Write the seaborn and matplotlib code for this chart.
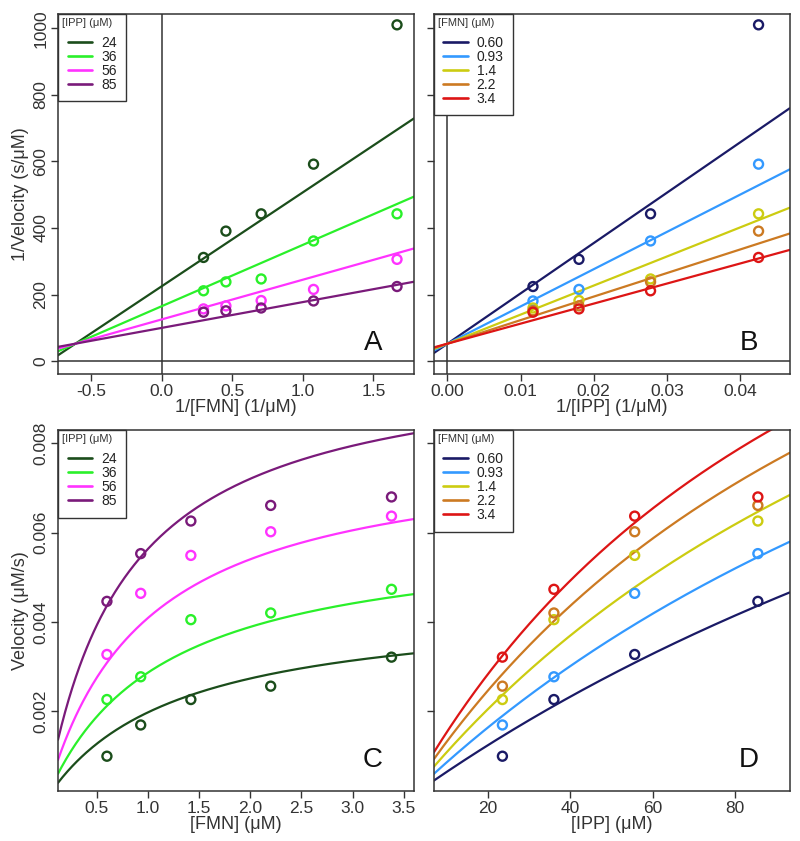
import numpy as np
import pandas as pd
import matplotlib
matplotlib.use("Agg")
import matplotlib.pyplot as plt
import seaborn as sns
from matplotlib.lines import Line2D

# ---------------- data ----------------
fmn_conc = [0.60, 0.93, 1.42, 2.20, 3.38]          # [FMN] (uM)
ipp_conc = [23.5, 36.0, 55.6, 85.5]                # [IPP] (uM)
fmn_labels = ["0.60", "0.93", "1.4", "2.2", "3.4"]
ipp_labels = ["24", "36", "56", "85"]
# velocity (uM/s); rows = IPP, columns = FMN
vel_ipp24 = [0.00099, 0.00169, 0.00226, 0.00256, 0.00321]
vel_ipp36 = [0.00226, 0.00277, 0.00405, 0.00420, 0.00473]
vel_ipp56 = [0.00327, 0.00464, 0.00549, 0.00602, 0.00637]
vel_ipp85 = [0.00446, 0.00553, 0.00626, 0.00661, 0.00680]
vel_rows = [vel_ipp24, vel_ipp36, vel_ipp56, vel_ipp85]

# fitted rate-law parameters: 1/v = a + b/[IPP] + c/([FMN][IPP]) + d/[FMN]
fit_a = 52.6
fit_b = 4052.0
fit_c = 6629.0
fit_d = 0.0

ipp_colors = ["#1b4d1b", "#2af02a", "#ff33ff", "#7a1a7a"]
fmn_colors = ["#1a1a66", "#3399ff", "#cccc11", "#cc7a22", "#dd1515"]

def inv_v(f, i):
    return fit_a + fit_b / i + fit_c / (f * i) + fit_d / f

# ---------------- tables ----------------
rows = []
for ii, ipp in enumerate(ipp_conc):
    for jj, fmn in enumerate(fmn_conc):
        v = vel_rows[ii][jj]
        rows.append(dict(ipp=ipp_labels[ii], fmn=fmn_labels[jj], IPP=ipp, FMN=fmn,
                         v=v, inv_v=1.0 / v, inv_fmn=1.0 / fmn, inv_ipp=1.0 / ipp))
pts = pd.DataFrame(rows)

xlimA = (-0.735, 1.787)
xlimB = (-0.0019, 0.0468)
xlimC = (0.122, 3.60)
xlimD = (6.8, 93.2)
ylimAB = (-40, 1043)
ylimCD = (0.0002, 0.0083)

def curves(xr, kind):
    out = []
    xs = np.linspace(xr[0], xr[1], 300)
    if kind == "A":
        for lab, ipp in zip(ipp_labels, ipp_conc):
            for x in xs:
                out.append(dict(key=lab, x=x, y=fit_a + fit_b / ipp + (fit_c / ipp + fit_d) * x))
    elif kind == "B":
        for lab, fmn in zip(fmn_labels, fmn_conc):
            for x in xs:
                out.append(dict(key=lab, x=x, y=fit_a + fit_d / fmn + (fit_b + fit_c / fmn) * x))
    elif kind == "C":
        for lab, ipp in zip(ipp_labels, ipp_conc):
            for x in xs:
                out.append(dict(key=lab, x=x, y=1.0 / inv_v(x, ipp)))
    else:
        for lab, fmn in zip(fmn_labels, fmn_conc):
            for x in xs:
                out.append(dict(key=lab, x=x, y=1.0 / inv_v(fmn, x)))
    return pd.DataFrame(out)

# ---------------- figure ----------------
sns.set_theme(style="ticks")
plt.rcParams["font.family"] = ["Liberation Sans", "DejaVu Sans"]
plt.rcParams["axes.edgecolor"] = "#333333"
plt.rcParams["axes.linewidth"] = 1.1

fig = plt.figure(figsize=(8.0, 8.41), dpi=100)
W = 0.445
axA = fig.add_axes([0.0725, 0.5547, W, 0.4288])
axB = fig.add_axes([0.5420, 0.5547, W, 0.4288])
axC = fig.add_axes([0.0725, 0.0589, W, 0.4298])
axD = fig.add_axes([0.5420, 0.0589, W, 0.4298])

ipp_pal = dict(zip(ipp_labels, ipp_colors))
fmn_pal = dict(zip(fmn_labels, fmn_colors))

def draw(ax, cdf, xcol, ycol, hue, pal, order, xr, yr):
    sns.lineplot(data=cdf, x="x", y="y", hue="key", palette=pal, hue_order=order,
                 ax=ax, lw=1.6, legend=False, estimator=None, sort=False)
    for k in order:
        sub = pts[pts[hue] == k]
        sns.scatterplot(data=sub, x=xcol, y=ycol, ax=ax, s=42, marker="o",
                        facecolors="none", edgecolor=pal[k], linewidth=1.7,
                        legend=False, zorder=5)
    ax.set_xlim(*xr)
    ax.set_ylim(*yr)

draw(axA, curves(xlimA, "A"), "inv_fmn", "inv_v", "ipp", ipp_pal, ipp_labels, xlimA, ylimAB)
draw(axB, curves(xlimB, "B"), "inv_ipp", "inv_v", "fmn", fmn_pal, fmn_labels, xlimB, ylimAB)
draw(axC, curves(xlimC, "C"), "FMN", "v", "ipp", ipp_pal, ipp_labels, xlimC, ylimCD)
draw(axD, curves(xlimD, "D"), "IPP", "v", "fmn", fmn_pal, fmn_labels, xlimD, ylimCD)

for ax in (axA, axB):
    ax.axhline(0, color="#333333", lw=1.1, zorder=1)
    ax.axvline(0, color="#333333", lw=1.1, zorder=1)

axA.set_xticks([-0.5, 0.0, 0.5, 1.0, 1.5])
axA.set_xticklabels(["-0.5", "0.0", "0.5", "1.0", "1.5"])
axB.set_xticks([0.0, 0.01, 0.02, 0.03, 0.04])
axB.set_xticklabels(["0.00", "0.01", "0.02", "0.03", "0.04"])
for ax in (axA, axB):
    ax.set_yticks([0, 200, 400, 600, 800, 1000])
axA.set_yticklabels(["0", "200", "400", "600", "800", "1000"])
axB.set_yticklabels([])
axC.set_xticks([0.5, 1.0, 1.5, 2.0, 2.5, 3.0, 3.5])
axC.set_xticklabels(["0.5", "1.0", "1.5", "2.0", "2.5", "3.0", "3.5"])
axD.set_xticks([20, 40, 60, 80])
axD.set_xticklabels(["20", "40", "60", "80"])
for ax in (axC, axD):
    ax.set_yticks([0.002, 0.004, 0.006, 0.008])
axC.set_yticklabels(["0.002", "0.004", "0.006", "0.008"])
axD.set_yticklabels([])

for ax in (axA, axB, axC, axD):
    for s in ax.spines.values():
        s.set_visible(True)
        s.set_color("#333333")
        s.set_linewidth(1.1)
    ax.tick_params(axis="both", direction="out", length=5, width=1.0,
                   color="#333333", labelsize=12.5, labelcolor="#333333", pad=2)
    ax.tick_params(axis="y", labelrotation=90)
    for lab in ax.get_yticklabels():
        lab.set_va("center")
    ax.set_xlabel("")
    ax.set_ylabel("")

lab_kw = dict(fontsize=13, color="#333333")
axA.set_xlabel("1/[FMN] (1/\u03bcM)", labelpad=0, **lab_kw)
axB.set_xlabel("1/[IPP] (1/\u03bcM)", labelpad=0, **lab_kw)
axC.set_xlabel("[FMN] (\u03bcM)", labelpad=0, **lab_kw)
axD.set_xlabel("[IPP] (\u03bcM)", labelpad=0, **lab_kw)
axA.set_ylabel("1/Velocity (s/\u03bcM)", labelpad=3, **lab_kw)
axC.set_ylabel("Velocity (\u03bcM/s)", labelpad=3, **lab_kw)

for ax, letter in zip((axA, axB, axC, axD), "ABCD"):
    ax.text(0.885, 0.088, letter, transform=ax.transAxes, fontsize=20,
            ha="center", va="center", color="#111111")

def legend(ax, labels, colors, title):
    handles = [Line2D([0], [0], color=c, lw=1.9) for c in colors]
    leg = ax.legend(handles, labels, title=title, loc="upper left",
                    bbox_to_anchor=(0, 1), borderaxespad=0, frameon=True,
                    fancybox=False, fontsize=10, title_fontsize=8,
                    handlelength=1.75, handletextpad=0.65, labelspacing=0.0,
                    borderpad=0.3)
    leg.get_frame().set_edgecolor("#333333")
    leg.get_frame().set_linewidth(1.0)
    leg.get_frame().set_alpha(1)
    leg._legend_box.align = "left"
    leg._legend_box.sep = 1.5
    leg._legend_handle_box.pad = 4
    for t in leg.get_texts():
        t.set_color("#222222")
    leg.get_title().set_color("#333333")

legend(axA, ipp_labels, ipp_colors, "[IPP] (\u03bcM)")
legend(axB, fmn_labels, fmn_colors, "[FMN] (\u03bcM)")
legend(axC, ipp_labels, ipp_colors, "[IPP] (\u03bcM)")
legend(axD, fmn_labels, fmn_colors, "[FMN] (\u03bcM)")

fig.savefig("out.png", dpi=100, facecolor="white")
